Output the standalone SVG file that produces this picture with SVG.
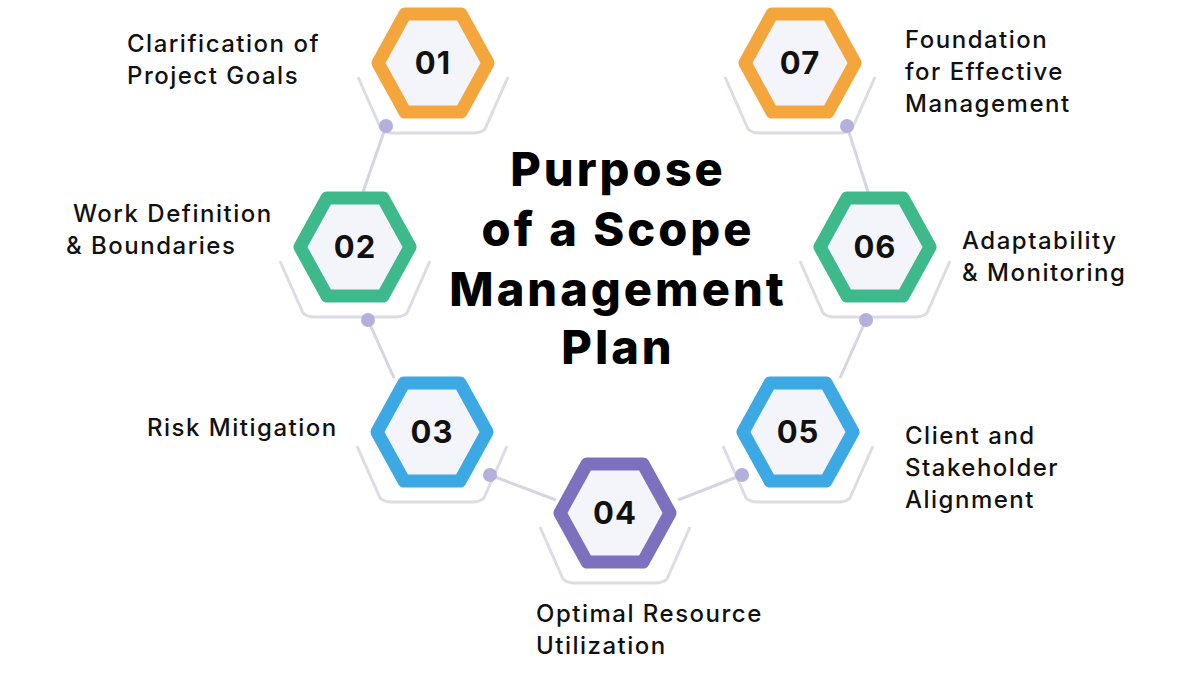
<svg xmlns="http://www.w3.org/2000/svg" width="1200" height="675" viewBox="0 0 1200 675">
<defs>
<style>
.hex{stroke-width:13;stroke-linejoin:round;fill:#f4f5fb}
.cup{fill:none;stroke:#dcdce4;stroke-width:3;stroke-linejoin:round}
.num{font-family:Inter,"Noto Sans",sans-serif;font-weight:700;font-size:31px;fill:#111;text-anchor:middle;letter-spacing:1px}
.lbl{font-family:Inter,"Noto Sans",sans-serif;font-weight:500;font-size:24px;fill:#111;letter-spacing:1.5px}
.ttl{font-family:Inter,"Noto Sans",sans-serif;font-weight:800;font-size:47px;fill:#000;text-anchor:middle;letter-spacing:3px}
.con{stroke:#d6d6e2;stroke-width:3;fill:none}
.dot{fill:#b4b0dc}
</style>
<path id="h" d="M-55,0 L-28,-49 L28,-49 L55,0 L28,49 L-28,49 Z"/>
<path id="c" d="M-75,14 L-52,66 Q-48,70 -40,70 L40,70 Q48,70 52,66 L75,14"/>
</defs>
<rect width="1200" height="675" fill="#fff"/>
<g id="connectors">
<line class="con" x1="386" y1="126" x2="363" y2="192"/>
<line class="con" x1="368" y1="320" x2="394" y2="378"/>
<line class="con" x1="490" y1="475" x2="556" y2="500"/>
<line class="con" x1="742" y1="475" x2="678" y2="500"/>
<line class="con" x1="866" y1="320" x2="840" y2="378"/>
<line class="con" x1="847" y1="126" x2="868" y2="192"/>
</g>
<g id="n01"><use href="#c" class="cup" x="433" y="63"/><use href="#h" class="hex" x="433" y="63" stroke="#f4a53c"/><circle class="dot" cx="386" cy="126" r="7"/><text class="num" x="433" y="74">01</text>
<text class="lbl" x="127" y="52">Clarification of</text><text class="lbl" x="127" y="84">Project Goals</text></g>
<g id="n02"><use href="#c" class="cup" x="355" y="247"/><use href="#h" class="hex" x="355" y="247" stroke="#3db98c"/><circle class="dot" cx="368" cy="320" r="7"/><text class="num" x="355" y="258">02</text>
<text class="lbl" x="73" y="222">Work Definition</text><text class="lbl" x="66" y="254">&amp; Boundaries</text></g>
<g id="n03"><use href="#c" class="cup" x="432" y="432"/><use href="#h" class="hex" x="432" y="432" stroke="#3ca9e4"/><circle class="dot" cx="490" cy="475" r="7"/><text class="num" x="432" y="443">03</text>
<text class="lbl" x="147" y="436">Risk Mitigation</text></g>
<g id="n04"><use href="#c" class="cup" x="615" y="513"/><use href="#h" class="hex" x="615" y="513" stroke="#7d70be"/><text class="num" x="615" y="524">04</text>
<text class="lbl" x="536" y="622">Optimal Resource</text><text class="lbl" x="536" y="654">Utilization</text></g>
<g id="n05"><use href="#c" class="cup" x="798" y="432"/><use href="#h" class="hex" x="798" y="432" stroke="#3ca9e4"/><circle class="dot" cx="742" cy="475" r="7"/><text class="num" x="798" y="443">05</text>
<text class="lbl" x="905" y="444">Client and</text><text class="lbl" x="905" y="476">Stakeholder</text><text class="lbl" x="905" y="508">Alignment</text></g>
<g id="n06"><use href="#c" class="cup" x="875" y="247"/><use href="#h" class="hex" x="875" y="247" stroke="#3db98c"/><circle class="dot" cx="866" cy="320" r="7"/><text class="num" x="875" y="258">06</text>
<text class="lbl" x="962" y="249">Adaptability</text><text class="lbl" x="962" y="281">&amp; Monitoring</text></g>
<g id="n07"><use href="#c" class="cup" x="800" y="63"/><use href="#h" class="hex" x="800" y="63" stroke="#f4a53c"/><circle class="dot" cx="847" cy="126" r="7"/><text class="num" x="800" y="74">07</text>
<text class="lbl" x="905" y="48">Foundation</text><text class="lbl" x="905" y="80">for Effective</text><text class="lbl" x="905" y="112">Management</text></g>
<g id="title"><text class="ttl" x="618" y="186">Purpose</text><text class="ttl" x="618" y="246">of a Scope</text><text class="ttl" x="618" y="306">Management</text><text class="ttl" x="618" y="364">Plan</text></g>
</svg>
